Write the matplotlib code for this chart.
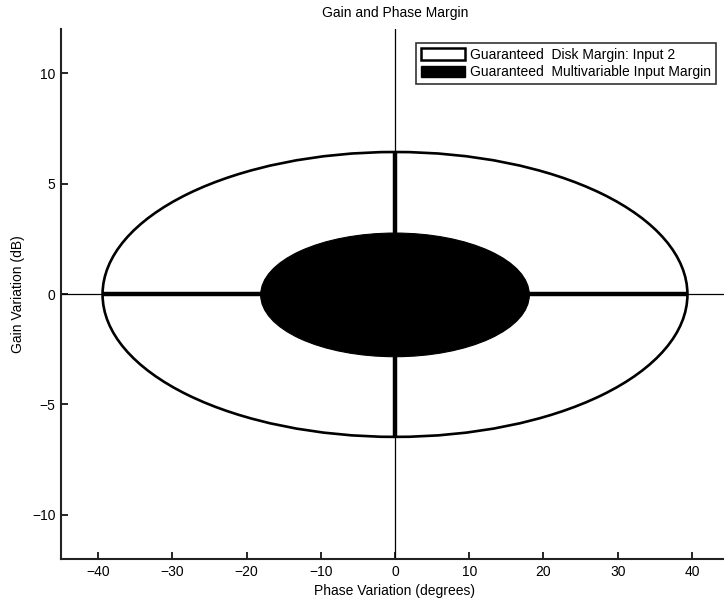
import matplotlib
matplotlib.use("Agg")
import matplotlib.pyplot as plt
from matplotlib.patches import Ellipse, Patch

plt.rcParams['font.family'] = ['Liberation Sans', 'DejaVu Sans']

# data
series_labels = ["Guaranteed  Disk Margin: Input 2", "Guaranteed  Multivariable Input Margin"]
phase_margin = [39.4, 18.1]   # degrees (half-width)
gain_upper = [6.43, 2.76]     # dB
gain_lower = [-6.47, -2.84]   # dB
x_ticks = [-40, -30, -20, -10, 0, 10, 20, 30, 40]
y_ticks = [-10, -5, 0, 5, 10]
x_limits = [-45, 45]
y_limits = [-12, 12]

fig = plt.figure(figsize=(7.24, 6.01), dpi=100)
W, H = 724, 601
ax = fig.add_axes([61 / W, (H - 559) / H, (729 - 61) / W, (559 - 29) / H])
ax.set_xlim(x_limits)
ax.set_ylim(y_limits)

# outer disk margin (outline)
pm, gu, gl = phase_margin[0], gain_upper[0], gain_lower[0]
ax.add_patch(Ellipse((0, (gu + gl) / 2), 2 * pm, gu - gl, facecolor='white',
                     edgecolor='black', lw=1.9, zorder=2))
# inner multivariable margin (filled)
pm2, gu2, gl2 = phase_margin[1], gain_upper[1], gain_lower[1]
ax.add_patch(Ellipse((0, (gu2 + gl2) / 2), 2 * pm2, gu2 - gl2, facecolor='black',
                     edgecolor='black', lw=0.8, zorder=3))

# thick cross lines inside the outer margin
ax.plot([-pm, pm], [0, 0], color='black', lw=3.2, solid_capstyle='butt', zorder=2.5)
ax.plot([0, 0], [gl, gu], color='black', lw=3.2, solid_capstyle='butt', zorder=2.5)

# thin axis lines across the plot
ax.axhline(0, color='black', lw=0.9, zorder=1)
ax.axvline(0, color='black', lw=0.9, zorder=1)

ax.set_xticks(x_ticks)
ax.set_yticks(y_ticks)
ax.tick_params(direction='in', length=5, width=1.2, labelsize=10, pad=4,
               top=False, right=False, colors='black')
for s in ['top', 'right']:
    ax.spines[s].set_visible(False)
for s in ['left', 'bottom']:
    ax.spines[s].set_linewidth(1.5)
    ax.spines[s].set_color('#222222')

ax.set_xlabel("Phase Variation (degrees)", fontsize=10, labelpad=4)
ax.set_ylabel("Gain Variation (dB)", fontsize=10, labelpad=5)
fig.text((61 + 729) / 2 / W - 0.0, 1 - 13 / H, "Gain and Phase Margin",
         ha='center', va='center', fontsize=10)

handles = [Patch(facecolor='white', edgecolor='black', lw=1.8),
           Patch(facecolor='black', edgecolor='black', lw=1.0)]
leg = fig.legend(handles, series_labels, loc='upper right',
                 bbox_to_anchor=(716 / W, 1 - 43 / H), fontsize=10,
                 frameon=True, fancybox=False, shadow=False,
                 handlelength=3.2, handleheight=0.9, handletextpad=0.35,
                 labelspacing=0.25, borderpad=0.35, borderaxespad=0.0)
leg.get_frame().set_edgecolor('black')
leg.get_frame().set_linewidth(1.2)

fig.savefig("out.png", dpi=100)
